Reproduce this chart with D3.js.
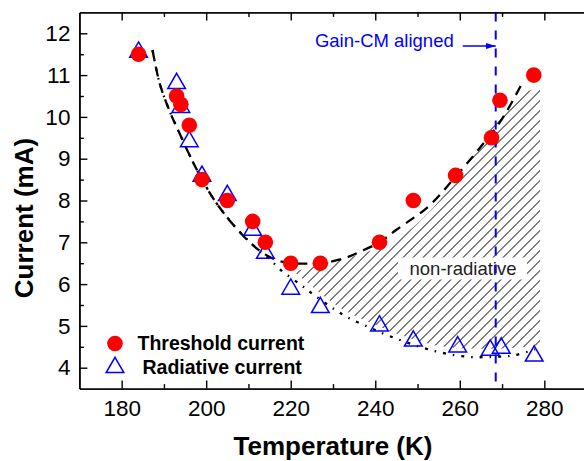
<!DOCTYPE html>
<html><head><meta charset="utf-8">
<script src="https://cdn.jsdelivr.net/npm/d3@7"></script>
<style>
html,body{margin:0;padding:0;background:#fff;}
svg{display:block;font-family:"Liberation Sans",Arial,sans-serif;}
</style></head>
<body>
<svg id="chart" width="584" height="461"></svg>
<script>
// ---------- data ----------
const thresholdT = [184, 193, 194, 196, 199, 205, 211, 214, 220, 227, 241, 249, 259, 267.5, 269.5, 277.5];
const thresholdI = [11.5, 10.5, 10.3, 9.8, 8.5, 8.0, 7.5, 7.0, 6.5, 6.5, 7.0, 8.0, 8.6, 9.5, 10.4, 11.0];
const radiativeT = [184, 193, 194, 196, 199, 205, 211, 214, 220, 227, 241, 249, 259.5, 267.2, 269.8, 277.6];
const radiativeI = [11.55, 10.8, 10.23, 9.41, 8.58, 8.12, 7.29, 6.74, 5.88, 5.44, 5.0, 4.64, 4.5, 4.42, 4.47, 4.28];

// fit curves
const thFitT = [187.3, 189, 191.5, 193.5, 196, 198.5, 202, 207, 212, 216, 220, 224, 228, 233, 236.5, 241, 245, 252.5, 259, 265, 270, 274.7];
const thFitI = [11.6, 10.8, 10.1, 9.65, 9.1, 8.6, 8.0, 7.35, 6.85, 6.6, 6.5, 6.49, 6.51, 6.63, 6.78, 7.0, 7.3, 7.85, 8.57, 9.29, 9.95, 10.8];
const radFitT = [187.3, 189, 191.5, 193.5, 196, 198.5, 202, 207, 212, 215, 217.6, 222.4, 225.5, 230.3, 233.5, 238.2, 243.8, 254, 262, 268, 273, 277.8];
const radFitI = [11.6, 10.8, 10.1, 9.65, 9.1, 8.6, 8.0, 7.35, 6.85, 6.6, 6.34, 5.98, 5.74, 5.4, 5.2, 4.98, 4.74, 4.4, 4.26, 4.26, 4.3, 4.44];

// hatched non-radiative band
const hatchTopT = [221, 227, 236, 246, 258, 267, 270.5, 274, 279];
const hatchTopI = [6.3, 6.46, 6.7, 7.13, 8.33, 9.69, 10.1, 10.5, 10.72];
const hatchBotT = [221, 225, 230, 235, 240, 246, 254, 262, 270, 279];
const hatchBotI = [6.28, 5.95, 5.55, 5.25, 5.03, 4.78, 4.54, 4.46, 4.46, 4.54];

const alignedT = 268.5;
const xMajor = [180, 200, 220, 240, 260, 280];
const xMinor = [190, 210, 230, 250, 270];
const yMajor = [4, 5, 6, 7, 8, 9, 10, 11, 12];
const yMinor = [4.5, 5.5, 6.5, 7.5, 8.5, 9.5, 10.5, 11.5];

const labels = {
  x: "Temperature (K)", y: "Current (mA)",
  th: "Threshold current", rad: "Radiative current",
  nonrad: "non-radiative", gain: "Gain-CM aligned"
};

// ---------- layout ----------
const svg = d3.select("#chart");
const L = 79.4, R = 586.6, T = 12.4, B = 388.6;
const x = d3.scaleLinear().domain([170, 290]).range([L, R]);
const y = d3.scaleLinear().domain([3.5, 12.5]).range([B, T]);

const defs = svg.append("defs");
const pat = defs.append("pattern").attr("id", "hatch")
  .attr("patternUnits", "userSpaceOnUse").attr("width", 7.07).attr("height", 7.07)
  .attr("patternTransform", "rotate(45)");
pat.append("line").attr("x1", 0.5).attr("y1", -1).attr("x2", 0.5).attr("y2", 9)
  .attr("stroke", "#222").attr("stroke-width", 0.9);
defs.append("marker").attr("id", "arrow").attr("viewBox", "0 0 10 6")
  .attr("refX", 10).attr("refY", 3).attr("markerWidth", 10).attr("markerHeight", 6)
  .attr("markerUnits", "userSpaceOnUse").attr("orient", "auto")
  .append("path").attr("d", "M0,0L10,3L0,6Z").attr("fill", "#0000ff");
defs.append("clipPath").attr("id", "plotclip").append("rect")
  .attr("x", L).attr("y", T).attr("width", R - L).attr("height", B - T);

const plot = svg.append("g").attr("clip-path", "url(#plotclip)");

// hatch band
const bandLine = d3.line().x(d => x(d[0])).y(d => y(d[1])).curve(d3.curveCatmullRom);
const topPath = bandLine(hatchTopT.map((t, i) => [t, hatchTopI[i]]));
const botPts = hatchBotT.map((t, i) => [t, hatchBotI[i]]).reverse();
const botPath = bandLine(botPts).replace(/^M/, "L");
plot.append("path").attr("d", topPath + botPath + "Z").attr("fill", "url(#hatch)");

// non-radiative label box
const nrBox = plot.append("g");
nrBox.append("rect").attr("x", 398).attr("y", 257.5).attr("width", 129).attr("height", 22)
  .attr("fill", "#fff");
nrBox.append("text").attr("x", 463).attr("y", 274.5).attr("text-anchor", "middle")
  .attr("font-size", 18.5).attr("fill", "#222").text(labels.nonrad);

// fit curves
const line = d3.line().x(d => x(d[0])).y(d => y(d[1])).curve(d3.curveCatmullRom);
plot.append("path").attr("d", line(radFitT.map((t, i) => [t, radFitI[i]])))
  .attr("fill", "none").attr("stroke", "#000").attr("stroke-width", 2.3)
  .attr("stroke-dasharray", "3,7,1.5,7");
plot.append("path").attr("d", line(thFitT.map((t, i) => [t, thFitI[i]])))
  .attr("fill", "none").attr("stroke", "#000").attr("stroke-width", 2.3)
  .attr("stroke-dasharray", "10,7");

// vertical aligned line
plot.append("line").attr("x1", x(alignedT)).attr("x2", x(alignedT)).attr("y1", T).attr("y2", B)
  .attr("stroke", "#0000ff").attr("stroke-width", 2).attr("stroke-dasharray", "9,9");

// markers
const tri = d3.symbol().type(d3.symbolTriangle).size(135);
plot.selectAll(".rad").data(radiativeT.map((t, i) => [t, radiativeI[i]])).join("path")
  .attr("transform", d => `translate(${x(d[0])},${y(d[1])})`)
  .attr("d", tri).attr("fill", "none").attr("stroke", "#0000ff").attr("stroke-width", 1.5);
plot.selectAll(".th").data(thresholdT.map((t, i) => [t, thresholdI[i]])).join("circle")
  .attr("cx", d => x(d[0])).attr("cy", d => y(d[1])).attr("r", 7.8).attr("fill", "#ff0000");

// axes
function styleAxis(g) {
  g.selectAll("path.domain").attr("stroke", "#000").attr("stroke-width", 1.4);
  g.selectAll(".tick line").attr("stroke", "#000").attr("stroke-width", 1.4);
  g.selectAll(".tick text").attr("font-size", 22.5).attr("fill", "#000")
    .attr("font-family", "'Liberation Sans',Arial,sans-serif");
}
svg.append("g").attr("transform", `translate(0,${B})`)
  .call(d3.axisBottom(x).tickValues(xMajor).tickSize(-8).tickSizeOuter(0).tickPadding(11).tickFormat(d3.format("d")))
  .call(styleAxis);
svg.append("g").attr("transform", `translate(0,${B})`)
  .call(d3.axisBottom(x).tickValues(xMinor).tickSize(-4.5).tickSizeOuter(0).tickFormat(""))
  .call(styleAxis);
svg.append("g").attr("transform", `translate(0,${T})`)
  .call(d3.axisTop(x).tickValues(xMajor).tickSize(-8).tickSizeOuter(0).tickFormat(""))
  .call(styleAxis);
svg.append("g").attr("transform", `translate(0,${T})`)
  .call(d3.axisTop(x).tickValues(xMinor).tickSize(-4.5).tickSizeOuter(0).tickFormat(""))
  .call(styleAxis);
svg.append("g").attr("transform", `translate(${L},0)`)
  .call(d3.axisLeft(y).tickValues(yMajor).tickSize(-8).tickSizeOuter(0).tickPadding(9).tickFormat(d3.format("d")))
  .call(styleAxis);
svg.append("g").attr("transform", `translate(${L},0)`)
  .call(d3.axisLeft(y).tickValues(yMinor).tickSize(-4.5).tickSizeOuter(0).tickFormat(""))
  .call(styleAxis);
svg.append("g").attr("transform", `translate(${R},0)`)
  .call(d3.axisRight(y).tickValues([]).tickSizeOuter(0))
  .call(styleAxis);

// axis titles
svg.append("text").attr("x", 333).attr("y", 455).attr("text-anchor", "middle")
  .attr("font-size", 26).attr("font-weight", "bold").text(labels.x);
svg.append("text").attr("transform", "translate(32.5,218) rotate(-90)").attr("text-anchor", "middle")
  .attr("font-size", 26).attr("font-weight", "bold").text(labels.y);

// Gain-CM annotation
const xa = x(alignedT);
svg.append("text").attr("x", xa - 42).attr("y", 47).attr("text-anchor", "end")
  .attr("font-size", 18.5).attr("fill", "#0000ff").text(labels.gain);
svg.append("line").attr("x1", xa - 33).attr("x2", xa).attr("y1", 46).attr("y2", 46)
  .attr("stroke", "#0000ff").attr("stroke-width", 1.4).attr("marker-end", "url(#arrow)");

// legend
const lg = svg.append("g");
lg.append("circle").attr("cx", 115).attr("cy", 343.5).attr("r", 7.8).attr("fill", "#ff0000");
lg.append("path").attr("transform", "translate(115,367.5)").attr("d", tri)
  .attr("fill", "none").attr("stroke", "#0000ff").attr("stroke-width", 1.5);
lg.append("text").attr("x", 137.5).attr("y", 349.5).attr("font-size", 19.5).attr("font-weight", "bold").text(labels.th);
lg.append("text").attr("x", 142.5).attr("y", 373.5).attr("font-size", 19.5).attr("font-weight", "bold").text(labels.rad);
</script>
</body></html>
